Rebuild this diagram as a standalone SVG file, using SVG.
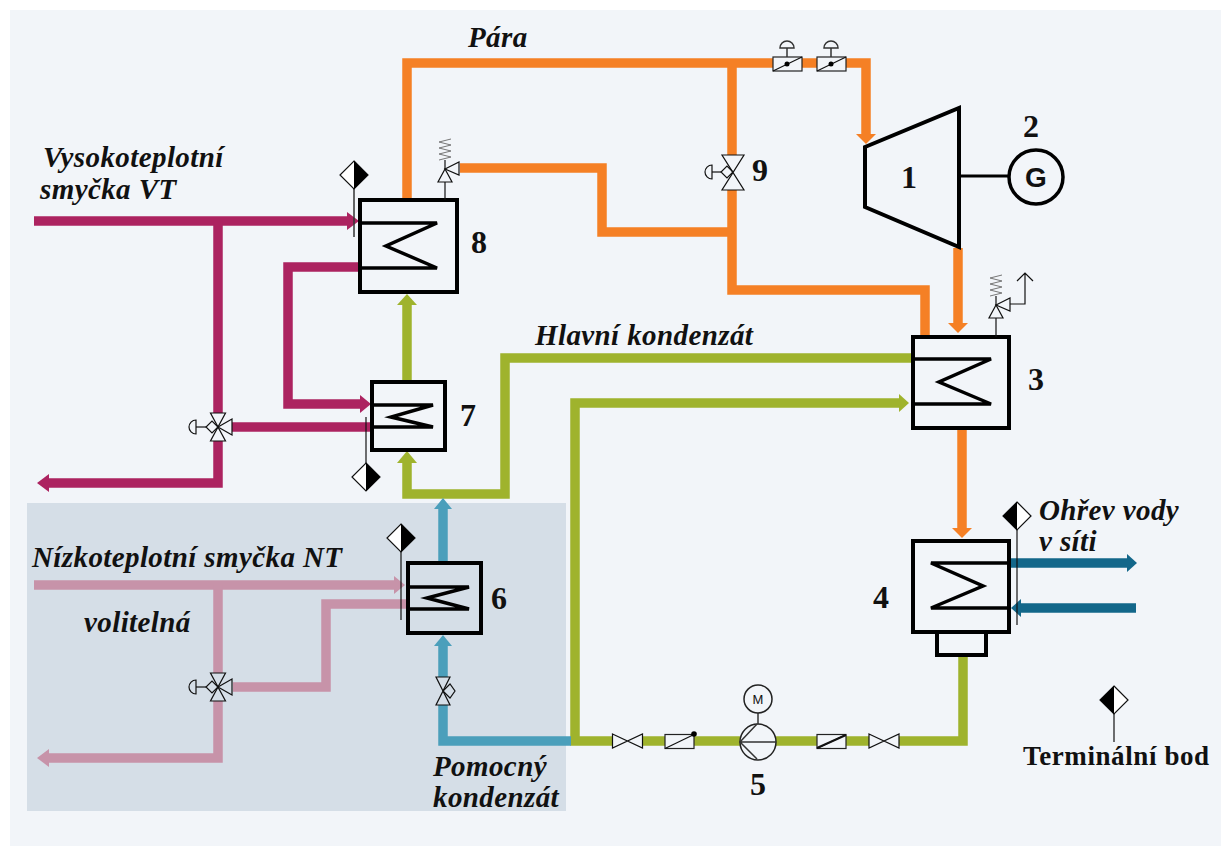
<svg xmlns="http://www.w3.org/2000/svg" width="1221" height="846" viewBox="0 0 1221 846">
<style>
.p{fill:none;stroke-linejoin:miter;stroke-linecap:butt;stroke-width:9.500}
.or{stroke:#f58025}.mg{stroke:#ac2360}.pk{stroke:#c793a9}.gr{stroke:#9fb32d}.tl{stroke:#4b9fbb}.dt{stroke:#13678a}
.b{fill:none;stroke:#000;stroke-width:4;stroke-linejoin:miter}
.w{fill:none;stroke:#000;stroke-width:3.5;stroke-linejoin:miter}
.t{fill:none;stroke:#111;stroke-width:1.2}
.s{fill:none;stroke:#333;stroke-width:1.5}
text{font-family:"Liberation Serif","Times New Roman",serif;font-weight:bold;fill:#111}
.l{font-style:italic;font-size:29px;letter-spacing:.4px}
.n{font-size:32px}
</style>
<defs>
<g id="term"><path d="M0,-14L14,0L0,14L-14,0Z" fill="#fff" stroke="#111" stroke-width="1.2"/><path d="M0,-14L14,0L0,14Z" fill="#000"/></g>
<g id="termL"><path d="M0,-14L14,0L0,14L-14,0Z" fill="#fff" stroke="#111" stroke-width="1.2"/><path d="M0,-14L-14,0L0,14Z" fill="#000"/></g>
<g id="bow"><path class="t" d="M-15,-7L15,7V-7L-15,7Z" fill="#f2f5f9"/></g>
<g id="v3"><path d="M-7.500,-14H7.500L-7.500,14H7.500Z" class="t"/><path d="M0,0L14,-8V8Z" class="t"/><path d="M0,0L-6,-6L-12,0L-6,6Z" class="t"/><path class="t" d="M-12,0H-22"/><path class="t" d="M-22,-7A7,7 0 0 0 -22,7Z"/></g>
<g id="act"><path class="s" d="M0,3V-6"/><path class="s" d="M-7,-6A7,7 0 0 1 7,-6Z"/></g>
<g id="box"><rect x="-14.500" y="-7" width="29" height="14" fill="#f2f5f9" stroke="#222" stroke-width="1.200"/><path d="M-14.500,7L14.500,-7" stroke="#111" stroke-width="1.200"/></g>
<g id="relief"><path class="t" d="M0,0L-7,13H7Z"/><path class="t" d="M0,0L14,-7V6Z"/><path d="M-6,-9L6,-12L-6,-15L6,-18L-6,-21L6,-24L-6,-27L6,-30" fill="none" stroke="#777" stroke-width="1"/><path class="t" d="M0,0V-9"/></g>
</defs>
<rect width="1221" height="846" fill="#fff"/>
<rect x="10" y="10" width="1211" height="836" fill="#f2f5f9"/>
<rect x="27" y="503" width="539" height="308" fill="#d5dee7"/>
<g id="connectors">
<path class="p or" d="M407,200V63H866V135"/>
<path fill="#f58025" d="M856,134H876L866,144Z"/>
<path class="p or" d="M732,63V155M732,190V290H925V337"/>
<path class="p or" d="M732,232H602V168H460"/>
<path class="p or" d="M958,248V324"/><path fill="#f58025" d="M948,323H968L958,333Z"/>
<path class="p or" d="M962,428V529"/><path fill="#f58025" d="M952,528H972L962,538Z"/>
<path class="p mg" d="M34,221H349"/><path fill="#ac2360" d="M347,212L359,221L347,230Z"/>
<path class="p mg" d="M218,221V413M218,441V483H48"/><path fill="#ac2360" d="M49,474L37,483L49,492Z"/>
<path class="p mg" d="M359,267H288V404H361"/><path fill="#ac2360" d="M360,395L371,404L360,413Z"/>
<path class="p mg" d="M232,427H371"/>
<path class="p pk" d="M34,585H396"/><path fill="#c793a9" d="M394,576L405,585L394,594Z"/>
<path class="p pk" d="M218,585V673M218,701V758H48"/><path fill="#c793a9" d="M49,749L37,758L49,767Z"/>
<path class="p pk" d="M233,687H326V604H407"/>
<path class="p gr" d="M407,382V304"/><path fill="#9fb32d" d="M397,305H417L407,294Z"/>
<path class="p gr" d="M407,462V494H505V358H912"/><path fill="#9fb32d" d="M397,463H417L407,451Z"/>
<path class="p gr" d="M900,403H575V741H613M642,741H665M694,741H740M776,741H817M846,741H869M899,741H963V655"/><path fill="#9fb32d" d="M899,394L909,403L899,412Z"/>
<path class="p tl" d="M443,563V508"/><path fill="#4b9fbb" d="M434,509H452L443,498Z"/>
<path class="p tl" d="M443,645V677M443,705V741H571"/><path fill="#4b9fbb" d="M434,646H452L443,635Z"/>
<path class="p dt" d="M1009,563H1128"/><path fill="#13678a" d="M1127,554L1137,563L1127,572Z"/>
<path class="p dt" d="M1136,608H1020"/><path fill="#13678a" d="M1021,599L1011,608L1021,617Z"/>
<path stroke="#000" stroke-width="3" d="M959,176H1008"/>
</g>
<g id="n1"><path class="b" d="M865,147L959,108V247L865,207Z"/><text class="n" x="909" y="188" text-anchor="middle">1</text></g>
<g id="n2"><circle class="w" cx="1036" cy="177" r="27"/><text x="1036" y="187" text-anchor="middle" style="font-family:'Liberation Sans',sans-serif;font-size:28px">G</text><text class="n" x="1031" y="137" text-anchor="middle">2</text></g>
<g id="n3"><rect class="b" x="913" y="337" width="96" height="91"/><path class="w" d="M913,359H991L939,382L991,404H913"/><text class="n" x="1036" y="390" text-anchor="middle">3</text>
<path class="t" d="M996,337V318"/><use href="#relief" x="996" y="305"/><path class="t" d="M1010,304H1025V273M1017,281L1025,273L1033,281"/></g>
<g id="n4"><rect class="b" x="913" y="541" width="96" height="91"/><rect class="b" x="937" y="632" width="49" height="23"/><path class="w" d="M1009,563H931L983,586L931,608H1009"/><text class="n" x="881" y="608" text-anchor="middle">4</text>
<path class="t" d="M1017,525V625"/><use href="#termL" x="1017" y="516"/></g>
<g id="n5"><circle cx="758" cy="742" r="18" fill="#f2f5f9" stroke="#222" stroke-width="1.500"/><path class="s" d="M757,724L740,742L757,759M740,742H776"/><path class="s" d="M758,724V713"/><circle cx="758" cy="699" r="14" fill="none" stroke="#222" stroke-width="1.500"/><text x="758" y="704" text-anchor="middle" style="font-family:'Liberation Sans',sans-serif;font-weight:normal;font-size:13px">M</text><text class="n" x="758" y="795" text-anchor="middle">5</text></g>
<g id="n6"><rect class="b" x="408" y="563" width="73" height="70"/><path class="w" d="M408,587H469L427,598L469,609H408"/><text class="n" x="499" y="609" text-anchor="middle">6</text>
<path class="t" d="M401,548V620"/><use href="#term" x="401" y="538"/></g>
<g id="n7"><rect class="b" x="372" y="382" width="73" height="68"/><path class="w" d="M372,405H433L391,417L433,427H372"/><text class="n" x="468" y="426" text-anchor="middle">7</text>
<path class="t" d="M366,417V465"/><use href="#term" x="366" y="477"/></g>
<g id="n8"><rect class="b" x="360" y="200" width="97" height="92"/><path class="w" d="M360,223H437L386,246L437,268H360"/><text class="n" x="479" y="253" text-anchor="middle">8</text>
<path class="s" d="M354,188V237"/><use href="#term" x="354" y="175"/>
<path class="t" d="M445,200V182"/><use href="#relief" x="445" y="169"/></g>
<g id="n9"><path class="t" d="M722,155H744L722,190H744Z"/><path class="t" d="M733,172L727,166L721,172L727,178Z"/><path class="t" d="M721,172H712"/><path class="t" d="M712,165A7,7 0 0 0 712,179Z"/><text class="n" x="760" y="181" text-anchor="middle">9</text></g>
<g id="valves">
<use href="#box" x="787.500" y="64"/><use href="#act" x="787" y="54"/><circle cx="787" cy="64" r="2.500"/>
<use href="#box" x="831.500" y="64"/><use href="#act" x="831" y="54"/><circle cx="831" cy="64" r="2.500"/>
<use href="#v3" x="218" y="427"/><use href="#v3" x="218" y="687"/>
<path class="t" d="M436,677H450L436,705H450Z"/><path class="t" d="M443,691L450,684L455,691L450,698Z"/>
<use href="#bow" x="627.500" y="741"/><use href="#bow" x="884" y="741"/>
<use href="#box" x="679.500" y="741.500"/><circle cx="694" cy="734" r="2.800"/>
<use href="#box" x="831.500" y="741.500"/><path d="M817,748L846,735" stroke="#111" stroke-width="2"/>
</g>
<g id="terminal-legend"><path class="t" d="M1114,708V742"/><use href="#termL" x="1114" y="700"/></g>
<g id="labels">
<text class="l" x="468" y="47">Pára</text>
<text class="l" x="43" y="167">Vysokoteplotní</text>
<text class="l" x="40" y="199">smyčka VT</text>
<text class="l" x="535" y="345">Hlavní kondenzát</text>
<text class="l" x="32" y="567">Nízkoteplotní smyčka NT</text>
<text class="l" x="84" y="632">volitelná</text>
<text class="l" x="433" y="776">Pomocný</text>
<text class="l" x="433" y="807">kondenzát</text>
<text class="l" x="1039" y="520">Ohřev vody</text>
<text class="l" x="1039" y="551">v síti</text>
<text x="1023" y="765" style="font-size:27px;letter-spacing:.6px">Terminální bod</text>
</g>
</svg>
